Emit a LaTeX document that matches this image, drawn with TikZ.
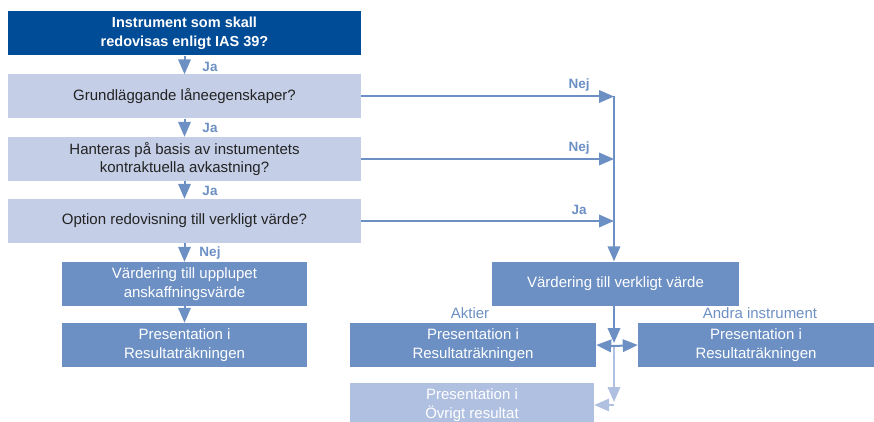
\documentclass[tikz,border=0pt]{standalone}
\usepackage{fontspec}
\setmainfont{Liberation Sans}
\usetikzlibrary{arrows.meta}
\definecolor{ifrsdark}{RGB}{0,76,151}
\definecolor{ifrslight}{RGB}{196,206,230}
\definecolor{ifrsmid}{RGB}{108,144,196}
\definecolor{ifrspale}{RGB}{176,192,225}
\definecolor{ifrstext}{RGB}{35,35,35}
\tikzset{x=1pt, y=-1pt,
  flow box/.style={minimum height=44pt, inner sep=0pt, align=center,
        font=\fontsize{15}{18.5}\selectfont},
  head question/.style={flow box, fill=ifrsdark, text=white,
        font=\bfseries\fontsize{14.5}{18.5}\selectfont},
  question/.style={flow box, fill=ifrslight, text=ifrstext},
  valuation/.style={flow box, fill=ifrsmid, text=white},
  other result/.style={flow box, fill=ifrspale, text=white},
  flow/.style={draw=ifrsmid, line width=2pt,
        -{Triangle[length=15pt, width=12.5pt]}},
  pale flow/.style={flow, draw=ifrspale},
  answer/.style={text=ifrsmid, font=\bfseries\fontsize{13.5}{16}\selectfont},
  branch/.style={text=ifrsmid, font=\fontsize{15}{18}\selectfont}
}
\def\Step#1#2#3#4#5#6{% name, look, x, y, width, text
\node[#2, minimum width=#5] (#1) at (#3,#4) {#6};
}
\def\Answer#1#2#3#4{%
\node[answer] (#1) at (#2,#3) {#4};
}

\begin{document}
\begin{tikzpicture}
\useasboundingbox (0,0) rectangle (874,422);
% questions
\Step{q0}{head question}{184.5}{33.5}{353pt}{Instrument som skall\\redovisas enligt IAS 39?}
\Step{q1}{question}{184.5}{96.5}{353pt}{Grundläggande låneegenskaper?}
\Step{q2}{question}{184.5}{159}{353pt}{Hanteras på basis av instumentets\\kontraktuella avkastning?}
\Step{q3}{question}{184.5}{221}{353pt}{Option redovisning till verkligt värde?}
% outcomes
\Step{amort}{valuation}{184.5}{284}{245pt}{Värdering till upplupet\\anskaffningsvärde}
\Step{presL}{valuation}{184.5}{345}{245pt}{Presentation i\\Resultaträkningen}
\Step{fair}{valuation}{615.5}{283.5}{247pt}{Värdering till verkligt värde}
\Step{presA}{valuation}{473}{345}{246pt}{Presentation i\\Resultaträkningen}
\Step{presB}{valuation}{756}{345}{236pt}{Presentation i\\Resultaträkningen}
\Step{presO}{other result}{472}{405}{244pt}{Presentation i\\Övrigt resultat}
\node[branch] (aktier) at (470,313) {Aktier};
\node[branch] (andra) at (760,313) {Andra instrument};

\draw[flow] (q0) -- (q1);
\draw[flow] (q1) -- (q2);
\draw[flow] (q2) -- (q3);
\draw[flow] (q3) -- (amort);
\draw[flow] (amort) -- (presL);
\Answer{ja1}{210}{67}{Ja}
\Answer{ja2}{210}{128}{Ja}
\Answer{ja3}{210}{191}{Ja}
\Answer{nej4}{210}{253}{Nej}

\coordinate (j1) at (614,96.5);
\coordinate (j2) at (614,159);
\coordinate (j3) at (614,221);
\draw[flow] (q1.east) -- (j1);
\draw[flow] (q2.east) -- (j2);
\draw[flow] (q3.east) -- (j3);
\draw[flow] (j1) -- (j1 |- fair.north);
\Answer{nej1}{579}{85}{Nej}
\Answer{nej2}{579}{148}{Nej}
\Answer{ja4}{579}{210}{Ja}

\coordinate (split) at (614,346);
\coordinate (drop) at (614,405);
\draw[pale flow, shorten >=3pt] (split) -- (drop);
\draw[pale flow] (drop) -- (presO.east);
\draw[flow, shorten >=3pt] (j1 |- fair.south) -- (split);
\draw[flow] (split) -- (presA.east);
\draw[flow] (split) -- (presB.west);
\end{tikzpicture}
\end{document}
